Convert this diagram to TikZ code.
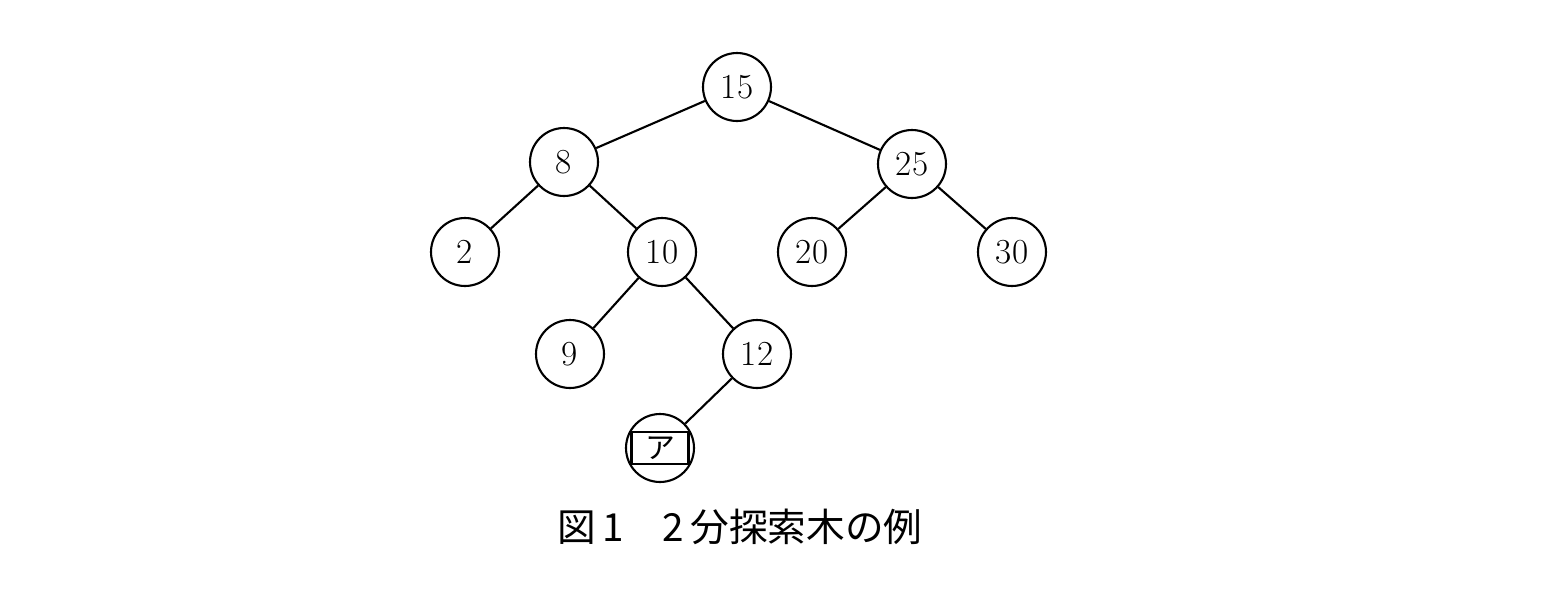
\documentclass[tikz,border=0pt]{standalone}
\usepackage{fontspec}
\newfontfamily\cjk{Noto Sans CJK JP}
\newfontfamily\cjkmin{Noto Sans CJK JP}
\begin{document}
\begin{tikzpicture}[x=0.02cm,y=-0.02cm,line width=1.2pt,
    knoten/.style={draw,circle,minimum size=1.36cm,inner sep=0pt,font=\fontsize{20}{22}\selectfont}]
		%Rahmen
		\useasboundingbox (0,0) rectangle (1560,596);
		
		%Knoten
		\node[knoten] (n15) at (737,87) {15};
		\node[knoten] (n8) at (564,162) {8};
		\node[knoten] (n25) at (912,164) {25};
		\node[knoten] (n2) at (465,252) {2};
		\node[knoten] (n10) at (662,252) {10};
		\node[knoten] (n20) at (812,252) {20};
		\node[knoten] (n30) at (1012,252) {30};
		\node[knoten] (n9) at (570,354) {9};
		\node[knoten] (n12) at (757,354) {12};
		\node[knoten] (na) at (660,448) {};
		\node[draw,line width=1.6pt,minimum width=1.14cm,minimum height=0.64cm,inner sep=0pt,font=\cjk\fontsize{17}{18}\selectfont] (kasten) at (na) {ア};
		
		%Kanten
		\foreach \a/\b in {n15/n8,n15/n25,n8/n2,n8/n10,n25/n20,n25/n30,n10/n9,n10/n12,n12/na}
			\draw (\a) -- (\b);
		
		%Beschriftung
		\node[font=\cjk\fontsize{22}{24}\selectfont] (titel) at (740,527) {図\,1\quad 2\,分探索木の例};
	\end{tikzpicture}
\end{document}
